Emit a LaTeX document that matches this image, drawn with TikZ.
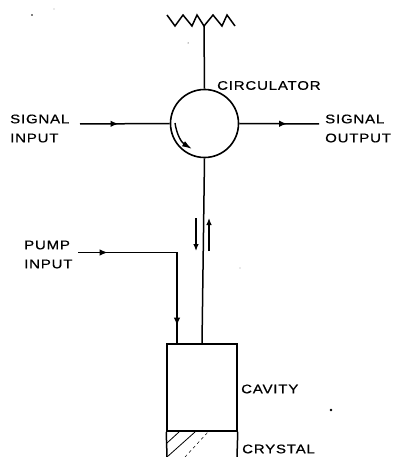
\documentclass[tikz,border=0pt]{standalone}
\usepackage{fontspec}
\setmainfont[FakeStretch=1.2,LetterSpace=6.5,FakeBold=0.6]{Liberation Sans}
\usetikzlibrary{arrows.meta, positioning, calc, decorations.markings}
\begin{document}
\begin{tikzpicture}[
    x=1pt, y=-1pt,
    label/.style={font=\fontsize{12.5}{19}\selectfont, align=left, inner sep=0pt, anchor=west},
    wire/.style={line width=1.5pt},
    flow/.style={wire, decoration={markings, mark=at position #1 with {\arrow{Latex[length=8pt,width=6.5pt]}}}, postaction={decorate}},
    edge/.style={->, >={Latex[length=7pt,width=5.5pt]}, line width=1.2pt}
]
    \useasboundingbox (0,0) rectangle (394,457);

    \node[circle, draw, line width=1.6pt, minimum size=68pt, inner sep=0pt] (circ) at (204.5,123.5) {};
    \node[label] (circ_lbl) at (217,85.5) {CIRCULATOR};

    % load on top
    \coordinate (load) at (204,26);
    \draw[wire] (167,15) -- (175,26) -- (183,15) -- (192,26) -- (197,15) -- (load) -- (213,15) -- (222,26) -- (227,15) -- (235,26);
    \draw[wire] (load) -- (circ.north);

    % signal in and out
    \node[label] (sig_in) at (10,128.5) {SIGNAL\\INPUT};
    \node[label] (sig_out) at (325,128.5) {SIGNAL\\OUTPUT};
    \coordinate (sig_in_end) at (80,124);
    \coordinate (sig_out_end) at (319,124);
    \draw[flow=0.43] (sig_in_end) -- (circ.west);
    \draw[flow=0.6] (circ.east) -- (sig_out_end);

    % rotation arrow inside the circle
    \coordinate (rot_a) at (175,123);
    \coordinate (rot_b) at (192,149);
    \draw[edge, line width=1.4pt, >={Latex[length=10pt,width=6pt]}] (rot_a) to[bend right=25] (rot_b);

    % cavity and crystal
    \node[draw, line width=1.5pt, minimum width=70pt, minimum height=87pt, inner sep=0pt] (cavity) at (202,387.5) {};
    \node[label] at (241,389) {CAVITY};
    \node[label] at (242,449) {CRYSTAL};
    \coordinate (xtal_l) at (cavity.south west);
    \coordinate (xtal_r) at (cavity.south east);
    \draw[line width=1.5pt] (xtal_l) -- (167,457) (xtal_r) -- (237,457);
    \draw[line width=0.8pt] (167,443) -- (179,432) (167,457) -- (195,432);
    \draw[line width=0.5pt, dashed] (185,457) -- (208,432);

    \draw[wire] (circ.south) -- (cavity.north);

    % pump line
    \node[label] (pump) at (24,254.5) {PUMP\\INPUT};
    \coordinate (pump_in) at (78,252.5);
    \coordinate (pump_bend) at (177,252.5);
    \coordinate (pump_end) at (177,344);
    \draw[flow=0.3] (pump_in) -- (pump_bend);
    \draw[flow=0.8, line cap=rect] (pump_bend) -- (pump_end);

    % small arrows beside the line
    \coordinate (dn_a) at (196,218);
    \coordinate (dn_b) at (196,251);
    \coordinate (up_a) at (209,251);
    \coordinate (up_b) at (209,218);
    \draw[edge] (dn_a) -- (dn_b);
    \draw[edge] (up_a) -- (up_b);

    % specks of the scan
    \foreach \sx/\sy/\sr in {32/15/0.8, 54/9/0.4, 188/43/0.5, 240/268/0.4, 331/410/1.4}
        \fill (\sx,\sy) circle (\sr pt);
\end{tikzpicture}
\end{document}
